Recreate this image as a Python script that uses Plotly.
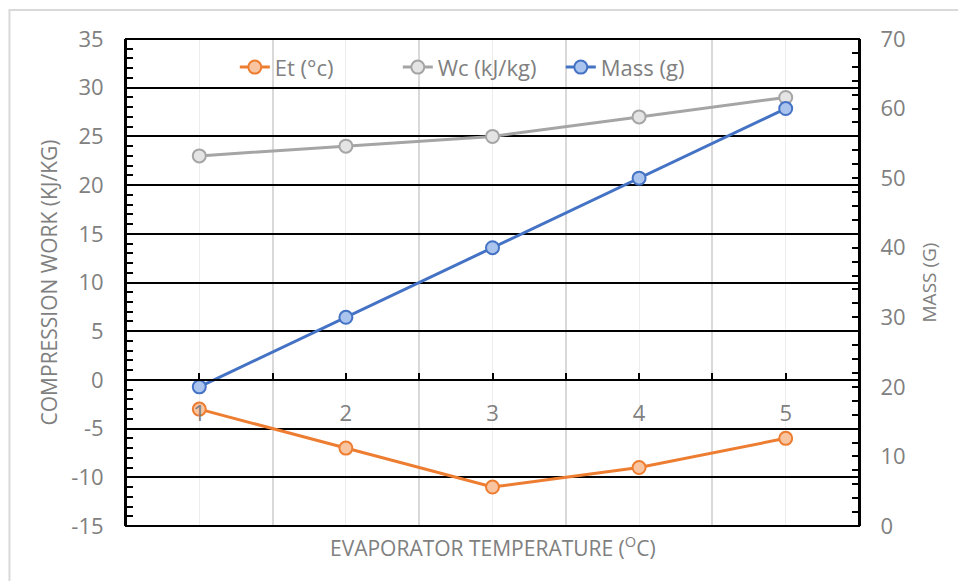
import plotly.graph_objects as go

categories = [1, 2, 3, 4, 5]
tick_labels = ["1", "2", "3", "4", "5"]
et_values = [-3, -7, -11, -9, -6]
wc_values = [23, 24, 25, 27, 29]
mass_values = [20, 30, 40, 50, 60]
boundaries = [1.5, 2.5, 3.5, 4.5]
left_ticks = [-15, -10, -5, 0, 5, 10, 15, 20, 25, 30, 35]
left_tick_labels = ["-15", "-10", "-5", "0", "5", "10", "15", "20", "25", "30", "35"]
right_ticks = [0, 10, 20, 30, 40, 50, 60, 70]
right_tick_labels = ["0", "10", "20", "30", "40", "50", "60", "70"]

FONT = "Open Sans"
GRAY = "#808080"

fig = go.Figure()
fig.add_trace(go.Scatter(
    x=categories, y=et_values, name="Et (°c)", mode="lines+markers",
    line=dict(color="#ed7d31", width=3),
    marker=dict(size=13, color="#f9c4a0", line=dict(color="#ed7d31", width=2)),
))
fig.add_trace(go.Scatter(
    x=categories, y=wc_values, name="Wc (kJ/kg)", mode="lines+markers",
    line=dict(color="#a5a5a5", width=3),
    marker=dict(size=13, color="#e4e4e4", line=dict(color="#a5a5a5", width=2)),
))
fig.add_trace(go.Scatter(
    x=categories, y=mass_values, name="Mass (g)", mode="lines+markers", yaxis="y2",
    line=dict(color="#4472c4", width=3),
    marker=dict(size=13, color="#aac4ee", line=dict(color="#4472c4", width=2)),
))

y_min, y_max = -15, 35
fig.update_layout(
    width=958, height=581,
    margin=dict(l=126, r=99, t=39, b=55, autoexpand=False),
    paper_bgcolor="white", plot_bgcolor="white",
    font=dict(family=FONT, color=GRAY, size=20),
    showlegend=True,
    legend=dict(orientation="h", x=0.482, xanchor="center", y=0.985, yanchor="top",
                font=dict(size=22, color=GRAY), bgcolor="rgba(0,0,0,0)",
                entrywidthmode="pixels", entrywidth=118),
    xaxis=dict(
        range=[0.5, 5.5], tickmode="array", tickvals=categories, ticktext=tick_labels,
        anchor="free", position=(0 - y_min) / (y_max - y_min), automargin=False,
        showline=True, linecolor="black", linewidth=2,
        ticks="inside", ticklen=6, tickwidth=2, tickcolor="black",
        ticklabelstandoff=14,
        showgrid=True, gridcolor="#ededed", gridwidth=1,
        minor=dict(tickmode="array", tickvals=boundaries, showgrid=True,
                   gridcolor="#d9d9d9", gridwidth=2, ticks="inside", ticklen=6,
                   tickwidth=2, tickcolor="black"),
        zeroline=False, tickfont=dict(size=22, color=GRAY),
    ),
    yaxis=dict(
        range=[y_min, y_max], tickmode="array", tickvals=left_ticks, ticktext=left_tick_labels,
        showline=True, linecolor="black", linewidth=2, automargin=False,
        ticks="inside", ticklen=7, tickwidth=2, tickcolor="black",
        showgrid=True, gridcolor="black", gridwidth=2,
        minor=dict(dtick=1, tick0=0, ticks="inside", ticklen=7, tickwidth=1.5, tickcolor="black"),
        zeroline=False, ticklabelstandoff=16,
        tickfont=dict(size=22, color=GRAY),
        title=dict(text="COMPRESSION WORK (KJ/KG)", font=dict(size=21, color=GRAY), standoff=8),
    ),
    yaxis2=dict(
        range=[0, 70], tickmode="array", tickvals=right_ticks, ticktext=right_tick_labels,
        overlaying="y", side="right", anchor="x", automargin=False,
        showline=True, linecolor="black", linewidth=2,
        ticks="inside", ticklen=7, tickwidth=2, tickcolor="black",
        minor=dict(dtick=2, tick0=0, ticks="inside", ticklen=7, tickwidth=1.5, tickcolor="black"),
        showgrid=False, zeroline=False, ticklabelstandoff=15,
        tickfont=dict(size=22, color=GRAY),
        title=dict(text="MASS (G)", font=dict(size=19, color=GRAY), standoff=18),
    ),
)

# plot frame
fig.add_shape(type="rect", xref="paper", yref="paper", x0=0, x1=1, y0=0, y1=1,
              line=dict(color="black", width=2), layer="above")
# outer chart border
fig.add_shape(type="rect", xref="paper", yref="paper", x0=-0.159, x1=1.3, y0=-0.3, y1=1.0595,
              line=dict(color="#d9d9d9", width=2), layer="below")

fig.add_annotation(text="EVAPORATOR TEMPERATURE (<sup>O</sup>C)", xref="paper", yref="paper",
                   x=0.5, y=-0.043, yanchor="middle", showarrow=False,
                   font=dict(size=21, color=GRAY, family=FONT))

fig.write_html("out.html", config={"displayModeBar": False},
               post_script="document.body.style.margin='0px';")
